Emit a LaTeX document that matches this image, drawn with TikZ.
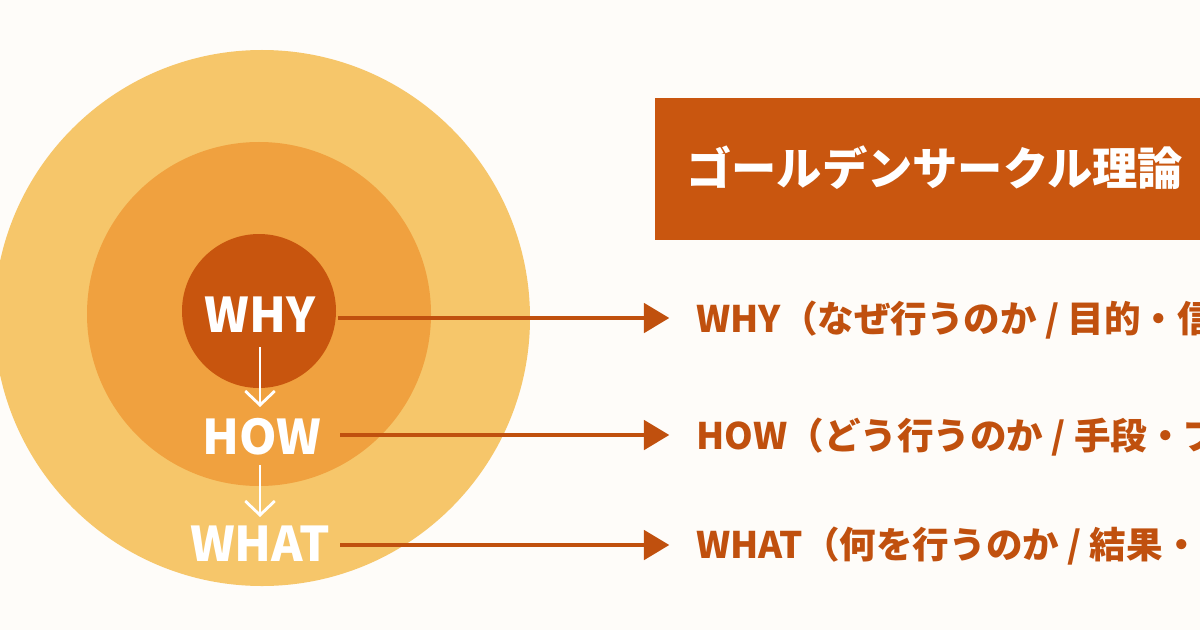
\documentclass[tikz,border=0pt]{standalone}
\usepackage{fontspec}
\setmainfont{Noto Sans CJK JP}
\usetikzlibrary{arrows.meta}

\definecolor{bgcream}{HTML}{FEFCF9}
\definecolor{ringout}{HTML}{F6C66A}
\definecolor{ringmid}{HTML}{F0A13F}
\definecolor{ringin}{HTML}{C8550E}
\definecolor{rust}{HTML}{C9560F}
\definecolor{tagrust}{HTML}{C0500E}

\tikzset{
	core/.style={font=\bfseries\fontsize{34}{34}\selectfont, text=white, inner sep=0pt},
	tag/.style={font=\bfseries\fontsize{26}{26}\selectfont, text=tagrust, anchor=west, inner sep=0pt},
	lead/.style={draw=tagrust, line width=2.2pt, -{Triangle[length=18pt,width=21pt]}, shorten >=19pt},
	godown/.style={draw=white, line width=2pt, -{Straight Barb[length=10pt,width=21pt,line width=2pt]}}
}

\begin{document}
\begin{tikzpicture}[x=0.025cm, y=-0.025cm]
		%%%%% START %%%%%
		\useasboundingbox (0, 0) rectangle (1200, 630);
		\fill[bgcream] (0, 0) rectangle (1200, 630);
		
		% rings
		\fill[ringout] (262, 318) circle (268);
		\fill[ringmid] (259, 314) circle (172);
		\fill[ringin] (259, 311) circle (77);
		
		% words in the rings
		\node[core] (whycore) at (260, 315) {WHY};
		\node[core] (howcore) at (262, 437) {HOW};
		\node[core] (whatcore) at (260, 544) {WHAT};
		\draw[godown] (260, 347) -- (260, 407);
		\draw[godown] (260, 465) -- (260, 517);
		
		% title
		\fill[rust] (655, 98) rectangle (1210, 240);
		\node[font=\bfseries\fontsize{32.2}{32.2}\selectfont, text=white, anchor=west, inner sep=0pt] (title) at (686, 168) {ゴールデンサークル理論};
		
		% labels on the right
		\node[tag] (whytag) at (696, 320) {WHY（なぜ行うのか / 目的・信念）};
		\node[tag] (howtag) at (696, 437) {HOW（どう行うのか / 手段・プロセス）};
		\node[tag] (whattag) at (696, 546) {WHAT（何を行うのか / 結果・製品）};
		
		\coordinate (whyfoot) at (338, 318);
		\coordinate (howfoot) at (340, 435);
		\coordinate (whatfoot) at (340, 545);
		\draw[lead] (whyfoot) -- (whyfoot -| whytag.west);
		\draw[lead] (howfoot) -- (howfoot -| howtag.west);
		\draw[lead] (whatfoot) -- (whatfoot -| whattag.west);
		%%%%% END %%%%%
	\end{tikzpicture}
\end{document}
